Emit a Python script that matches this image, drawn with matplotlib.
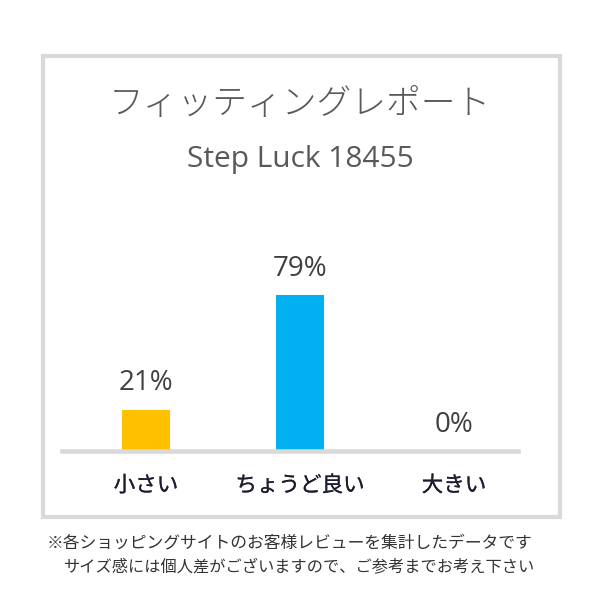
import matplotlib
matplotlib.use('Agg')
import matplotlib.pyplot as plt
import matplotlib.patheffects as pe
from matplotlib.patches import Rectangle

plt.rcParams['font.family'] = ['Noto Sans CJK JP', 'DejaVu Sans']

# data
categories = ['小さい', 'ちょうど良い', '大きい']
percents = [21, 79, 0]
bar_colors = ['#FFC000', '#00B0F0', '#00B0F0']
title = 'フィッティングレポート'
subtitle = 'Step Luck 18455'
notes = ['※各ショッピングサイトのお客様レビューを集計したデータです',
         'サイズ感には個人差がございますので、ご参考までお考え下さい']

W = H = 600
fig = plt.figure(figsize=(6, 6), dpi=100)
fig.patch.set_facecolor('white')

# grey frame round the report
fig.patches.append(Rectangle((43 / W, 1 - 517 / H), (560 - 43) / W, (517 - 56) / H,
                             transform=fig.transFigure, fill=False,
                             edgecolor='#d9d9d9', linewidth=3.0))

# plot area: baseline at y=451px, ~1.97 px per percent
ax = fig.add_axes([62 / W, 1 - 451 / H, (518 - 62) / W, 197 / H])
x = list(range(len(categories)))
bars = ax.bar(x, percents, width=0.312, color=bar_colors, zorder=1)
ax.set_xlim(-0.545, 2.416)
ax.set_ylim(0, 100)
for s in ['top', 'left', 'right']:
    ax.spines[s].set_visible(False)
ax.spines['bottom'].set_color('#d9d9d9')
ax.spines['bottom'].set_linewidth(3.3)
ax.set_yticks([])
ax.set_xticks(x, categories)
ax.tick_params(axis='x', length=0, pad=17, labelsize=15.5, labelcolor='#1c1c30')
# a bit heavier than regular, lighter than bold
for lbl in ax.get_xticklabels():
    lbl.set_path_effects([pe.withStroke(linewidth=0.15, foreground='#1c1c30')])
ax.patch.set_alpha(0)

for xi, p in zip(x, percents):
    ax.annotate(f'{p}%', (xi, p), xytext=(0, 14), textcoords='offset points',
                ha='center', va='baseline', fontsize=20, color='#404040',
                family=['Open Sans', 'Noto Sans CJK JP'])

fig.text(0.5, 1 - 104 / H, title, ha='center', va='center', fontsize=25,
         color='#595959', weight='light')
fig.text(0.5, 1 - 167 / H, subtitle, ha='center', va='baseline', fontsize=21.5,
         color='#595959', family=['Open Sans', 'DejaVu Sans'])

fig.text(47 / W, 1 - 543 / H, notes[0], ha='left', va='center', fontsize=12.1, color='#333333')
fig.text(64 / W, 1 - 567 / H, notes[1], ha='left', va='center', fontsize=11.7, color='#333333')

fig.savefig('out.png', dpi=100)
